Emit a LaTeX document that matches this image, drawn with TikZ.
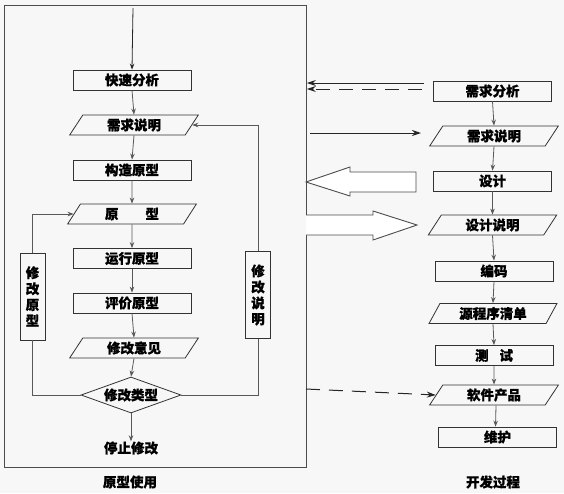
\documentclass[tikz,border=0pt]{standalone}
\usepackage{fontspec}
\newfontfamily\cjk{Noto Sans CJK SC}[BoldFeatures={FakeBold=0.8}]
\usetikzlibrary{shapes.geometric,arrows.meta}
\begin{document}
\begin{tikzpicture}[x=1pt,y=-1pt,
  every node/.style={font=\cjk\bfseries\fontsize{13.5}{16}\selectfont, text=black, inner sep=0},
  box/.style={draw=black!80, line width=0.8pt, minimum width=118, minimum height=20},
  para/.style={draw=black!80, line width=0.8pt, trapezium, trapezium left angle=62, trapezium right angle=118, trapezium stretches=true, minimum width=129, minimum height=20},
  vbox/.style={draw=black!80, line width=0.8pt, minimum width=25, minimum height=87, align=center},
  dia/.style={draw=black!80, line width=0.8pt, diamond, aspect=2.78, minimum width=100, minimum height=36},
  conn/.style={draw=black!65, line width=0.8pt},
  arr/.style={conn, -{Stealth[length=6pt,width=4.5pt]}},
  marr/.style={draw=black!85, line width=1pt, -{Stealth[length=9pt,width=6pt]}},
  dmarr/.style={marr, dash pattern=on 14pt off 9pt},
  big/.style={draw=black!70, line width=0.9pt, fill=white},
]
\useasboundingbox[fill=black!3] (0,0) rectangle (564,493);
% frame
\node[draw=black!70, line width=0.9pt, minimum width=302, minimum height=462, anchor=north west] (frame) at (4,5) {};
% left column
\coordinate (start) at (133,8);
\node[box] (ksfx) at (132,80) {快速分析};
\node[para] (req1) at (134,125) {需求说明};
\node[box] (gzyx) at (132,170) {构造原型};
\node[para] (proto) at (132,214) {原\hspace{2em}型};
\node[box] (yxyx) at (132,258.5) {运行原型};
\node[box] (pjyx) at (132,303) {评价原型};
\node[para] (xgyj) at (134,348) {修改意见};
\node[dia] (type) at (131,395) {修改类型};
\node (stop) at (131,448) {停止修改};
\node (lbl1) at (130,482) {原型使用};
\node[vbox] (xgyx) at (32.5,296.5) {修\\改\\原\\型};
\node[vbox] (xgsm) at (258,295) {修\\改\\说\\明};

\draw[arr, draw=black!85] (start) -- (ksfx.north);
\draw[arr] (ksfx.south) -- (req1.north);
\draw[arr] (req1.south) -- (gzyx.north);
\draw[arr] (gzyx.south) -- (proto.north);
\draw[arr] (proto.south) -- (yxyx.north);
\draw[arr] (yxyx.south) -- (pjyx.north);
\draw[arr] (pjyx.south) -- (xgyj.north);
\draw[arr] (xgyj.south) -- (type.north);
\draw[arr] (type.south) -- (stop.north);
\draw[conn] (type.west) -| (xgyx.south);
\draw[arr] (xgyx.north) |- (proto.west);
\draw[conn] (type.east) -| (xgsm.south);
\draw[arr] (xgsm.north) |- (req1.east);

% right column
\node[box] (reqa) at (492.5,91) {需求分析};
\node[para] (reqs) at (494,136) {需求说明};
\node[box] (des) at (492.5,181) {设计};
\node[para] (dess) at (492.5,225) {设计说明};
\node[box] (code) at (494,271) {编码};
\node[para] (src) at (493,313.5) {源程序清单};
\node[box] (test) at (494,355.5) {测\hspace{0.8em}试};
\node[para] (prod) at (494,395) {软件产品};
\node[box] (main) at (497.5,437) {维护};
\node (lbl2) at (493,482) {开发过程};

\draw[arr] (reqa.south) -- (reqs.north);
\draw[arr] (reqs.south) -- (des.north);
\draw[arr] (des.south) -- (dess.north);
\draw[arr] (dess.south) -- (code.north);
\draw[arr] (code.south) -- (src.north);
\draw[arr] (src.south) -- (test.north);
\draw[arr] (test.south) -- (prod.north);
\draw[arr] ([xshift=2pt]prod.south) -- ([xshift=-2pt]main.north);

% middle arrows
\coordinate (a1s) at (424,83);
\coordinate (a2s) at (422,89);
\coordinate (a3s) at (310,133);
\coordinate (a3e) at (421,133);
\coordinate (a4s) at (306,389);
\draw[marr] (a1s) -- (a1s -| frame.east);
\draw[dmarr] (a2s) -- (a2s -| frame.east);
\draw[marr] (a3s) -- (a3e);
\draw[dmarr] (a4s) -- (prod.west);
\draw[big] (306,182) -- (350,167) -- (350,172) -- (416,172) -- (416,192) -- (350,192) -- (350,196) -- cycle;
\draw[big] (306,215) -- (373,215) -- (373,211) -- (417,225) -- (373,240) -- (373,235) -- (306,235);
\end{tikzpicture}
\end{document}
